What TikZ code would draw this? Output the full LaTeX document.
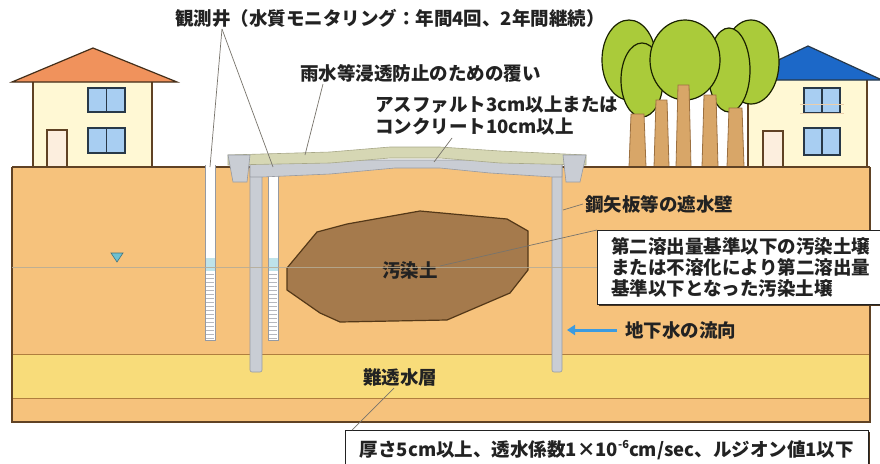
\documentclass[tikz,border=0pt]{standalone}
\usepackage{fontspec}
\setmainfont{Noto Sans CJK JP}
\usetikzlibrary{arrows.meta}
\definecolor{soil}{RGB}{246,194,124}
\definecolor{clay}{RGB}{248,220,122}
\definecolor{layerline}{RGB}{176,126,62}
\definecolor{edge}{RGB}{96,66,36}
\definecolor{cream}{RGB}{255,248,212}
\definecolor{roofL}{RGB}{240,146,92}
\definecolor{roofR}{RGB}{28,104,200}
\definecolor{win}{RGB}{168,206,242}
\definecolor{frame}{RGB}{40,56,72}
\definecolor{doorc}{RGB}{252,238,222}
\definecolor{crown}{RGB}{170,203,58}
\definecolor{crownline}{RGB}{26,34,0}
\definecolor{trunk}{RGB}{216,166,104}
\definecolor{trunkline}{RGB}{156,112,64}
\definecolor{steel}{RGB}{201,205,212}
\definecolor{steelline}{RGB}{150,154,162}
\definecolor{slab}{RGB}{214,215,180}
\definecolor{slabline}{RGB}{168,168,136}
\definecolor{blob}{RGB}{165,122,76}
\definecolor{blobline}{RGB}{84,56,24}
\definecolor{wt}{RGB}{182,172,150}
\definecolor{wtblue}{RGB}{110,192,208}
\definecolor{flowc}{RGB}{60,155,224}
\definecolor{txt}{RGB}{34,34,34}
\definecolor{leadc}{RGB}{120,116,108}
\begin{document}
\begin{tikzpicture}[x=1pt,y=-1pt,
  lbl/.style={font=\fontsize{18.5}{21}\selectfont\bfseries, text=txt, inner sep=0pt},
  leader/.style={draw=leadc, line width=0.7pt},
  wallline/.style={draw=edge, line width=1.3pt},
  window/.style={fill=win, draw=frame, line width=1.2pt},
  crownshape/.style={fill=crown, draw=crownline, line width=1.2pt},
  trunkshape/.style={fill=trunk, draw=trunkline, line width=0.8pt},
  steelpart/.style={fill=steel, draw=steelline, line width=0.6pt},
  notebox/.style={draw=txt, fill=white, line width=0.9pt},
  shadowbox/.style={fill=edge!80!black}]
\useasboundingbox (0,0) rectangle (880,463);
\fill[white] (0,0) rectangle (880,463);

% ---------- left house ----------
\fill[cream] (33,82) rectangle (152,167);
\draw[wallline] (33,82) -- (33,167) (152,82) -- (152,167);
\filldraw[fill=roofL, draw=edge!70!black, line width=1.2pt] (12,82) -- (93,48) -- (177,82) -- cycle;
\filldraw[window] (88,88) rectangle (125,112);
\draw[frame, line width=1.2pt] (106.5,88) -- (106.5,112);
\filldraw[window] (88,128) rectangle (125,153);
\draw[frame, line width=1.2pt] (106.5,128) -- (106.5,153);
\filldraw[fill=doorc, draw=edge, line width=1.2pt] (47,130) rectangle (67,167);

% ---------- right house ----------
\fill[cream] (748,80) rectangle (867,167);
\draw[wallline] (748,80) -- (748,167) (867,80) -- (867,167);
\filldraw[fill=roofR, draw=frame, line width=1.2pt] (736,80) -- (808,46) -- (882,80) -- cycle;
\filldraw[window] (804,88) rectangle (840,113);
\draw[frame, line width=1.2pt] (822,88) -- (822,113);
\draw[trunk!55, line width=0.6pt] (800,104) -- (844,104) (800,113) -- (844,113);
\filldraw[window] (804,128) rectangle (840,155);
\draw[frame, line width=1.2pt] (822,128) -- (822,155);
\filldraw[fill=doorc, draw=edge, line width=1.2pt] (763,131) rectangle (783,167);

% ---------- trees ----------
\filldraw[crownshape] (629,60) ellipse [x radius=27, y radius=40];
\filldraw[crownshape] (751,62) ellipse [x radius=28, y radius=42];
\filldraw[crownshape] (642,80) ellipse [x radius=21, y radius=37];
\filldraw[crownshape] (729,70) ellipse [x radius=21, y radius=42];
\filldraw[crownshape] (685,60) ellipse [x radius=35, y radius=40];
\filldraw[trunkshape] (629,167) -- (631,114) -- (644,114) -- (646,167) -- cycle;
\filldraw[trunkshape] (654,167) -- (656,100) -- (667,100) -- (669,167) -- cycle;
\filldraw[trunkshape] (676,167) -- (678,85) -- (689,85) -- (691,167) -- cycle;
\filldraw[trunkshape] (702,167) -- (704,95) -- (716,95) -- (718,167) -- cycle;
\filldraw[trunkshape] (727,167) -- (729,108) -- (742,108) -- (744,167) -- cycle;

% ---------- ground and strata ----------
\fill[soil] (12,167) rectangle (870,422);
\fill[clay] (12,354) rectangle (870,398);
\draw[layerline, line width=0.9pt] (12,354) -- (870,354) (12,398) -- (870,398);
\draw[edge, line width=1.3pt] (12,167) -- (870,167);
\draw[edge, line width=1.3pt] (12,167) -- (12,422) -- (870,422) -- (870,167);

% ---------- contaminated soil ----------
\filldraw[fill=blob, draw=blobline, line width=1.2pt]
  (287,268) -- (317,232) -- (347,224) -- (420,211) -- (507,219) -- (528,231)
  -- (528,270) -- (510,293) -- (447,320) -- (340,322) -- (320,313) -- (287,290) -- cycle;
\node[lbl] (osen) at (410,270) {汚染土};

% ---------- observation wells ----------
\foreach \wx in {205,268}{
  \fill[white] (\wx,165) rectangle (\wx+10,258);
  \fill[wtblue!45] (\wx,258) rectangle (\wx+10,271);
  \fill[white] (\wx,271) rectangle (\wx+10,340);
  \foreach \sy in {274,278,...,338} \draw[steelline!70, line width=0.5pt] (\wx+1,\sy) -- (\wx+9,\sy);
  \draw[steelline, line width=0.6pt] (\wx,165) -- (\wx,340) -- (\wx+10,340) -- (\wx+10,165);
}
\coordinate (well1) at (210,167);
\coordinate (well2) at (273,167);

% ---------- sheet pile walls and cover ----------
\filldraw[steelpart, rounded corners=2pt] (250,158) rectangle (262,372);
\filldraw[steelpart, rounded corners=2pt] (552,158) rectangle (562,372);
\filldraw[steelpart] (250,160) -- (562,160) -- (562,177) -- (553,177) -- (490,173)
  -- (440,168) -- (395,168) -- (330,174) -- (262,177) -- (250,177) -- cycle;
\filldraw[fill=slab, draw=slabline, line width=0.6pt]
  (228,155) -- (330,152) -- (390,147) -- (440,147) -- (500,151) -- (586,155)
  -- (586,165) -- (500,163) -- (440,158) -- (390,158) -- (330,163) -- (228,165) -- cycle;
\filldraw[steelpart] (228,155) -- (250,155) -- (247,182) -- (233,182) -- cycle;
\filldraw[steelpart] (563,155) -- (586,155) -- (580,182) -- (566,182) -- cycle;
\coordinate (coverpt) at (305,155);
\coordinate (asphpt) at (434,162);
\coordinate (pilept) at (563,210);

% ---------- water table ----------
\draw[wt, line width=0.9pt, opacity=0.85] (12,267) -- (870,267);
\filldraw[fill=wtblue, draw=wtblue!60!black, line width=0.6pt] (111,253) -- (123,253) -- (117,262) -- cycle;

% ---------- groundwater flow ----------
\node[lbl, anchor=west] (flow) at (625,330) {地下水の流向};
\coordinate (flowtip) at (567,330);
\draw[flowc, line width=3pt, -{Triangle[length=8pt,width=10pt]}] (flow.west) ++(-8,0) -- (flowtip);

% ---------- labels ----------
\node[lbl, anchor=west] (obs) at (175,18) {観測井（水質モニタリング：年間4回、2年間継続）};
\coordinate (obsfoot) at (222,29);
\draw[leader] (obsfoot) -- (well1);
\draw[leader] (obsfoot) -- (well2);

\node[lbl, anchor=west] (cover) at (300,73) {雨水等浸透防止のための覆い};
\draw[leader] (323,84) -- (coverpt);

\node[lbl, anchor=west] (asph) at (375,105) {アスファルト3cm以上または};
\node[lbl, anchor=west] (conc) at (375,127) {コンクリート10cm以上};
\draw[leader] (452,138) -- (asphpt);

\node[lbl, anchor=west] (pile) at (585,204) {鋼矢板等の遮水壁};
\draw[leader] (pile.west) ++(-2,0) -- (pilept);

\fill[shadowbox] (599,232) rectangle (890,306);
\node[notebox, anchor=north west, minimum width=290pt, minimum height=74pt,
      text width=262pt, inner xsep=14pt, align=left,
      font=\fontsize{18.5}{21}\selectfont\bfseries, text=txt] (soilbox) at (597,230)
  {第二溶出量基準以下の汚染土壌\\または不溶化により第二溶出量\\基準以下となった汚染土壌};
\draw[leader] (osen.east) ++(2,-4) -- (soilbox.north west);

\node[lbl] (aqui) at (400,377) {難透水層};
\fill[shadowbox] (347,432) rectangle (870,470);
\node[notebox, anchor=north west, minimum width=523pt, minimum height=40pt,
      inner xsep=9pt, inner ysep=0pt, align=left, font=\fontsize{18.5}{21}\selectfont\bfseries, text=txt] (spec) at (345,430)
  {厚さ5cm以上、透水係数1×10\raisebox{0.45em}{\fontsize{11}{11}\selectfont -6}cm/sec、ルジオン値1以下};
\draw[leader] (aqui.south) ++(-6,2) -- (352,430);
\end{tikzpicture}
\end{document}
